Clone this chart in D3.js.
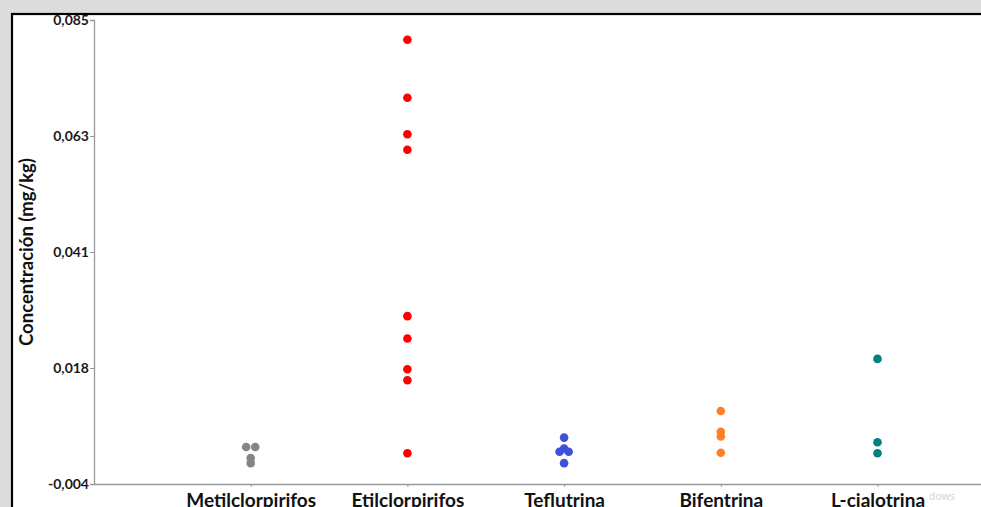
<!DOCTYPE html>
<html>
<head>
<meta charset="utf-8">
<script src="https://cdn.jsdelivr.net/npm/d3@7/dist/d3.min.js"></script>
<style>
html,body{margin:0;padding:0;background:#dcdcdc;overflow:hidden;}
svg{display:block;}
</style>
</head>
<body>
<svg id="chart" width="981" height="507"></svg>
<script>
const categories = ["Metilclorpirifos","Etilclorpirifos","Teflutrina","Bifentrina","L-cialotrina"];
const colors = ["#858585","#ff0000","#3e4fd8","#ff7f27","#008080"];
const metil = [0.0031,0.0031,0.0010,0.0000];
const etil = [0.0812,0.0701,0.0631,0.0601,0.0282,0.0239,0.0180,0.0159,0.0019];
const teflu = [0.0049,0.0028,0.0022,0.0022,0.0000];
const bifen = [0.0100,0.0060,0.0051,0.0020];
const lcial = [0.0200,0.0040,0.0019];
const seriesValues = [metil, etil, teflu, bifen, lcial];
const tickValues = [-0.004, 0.01825, 0.0405, 0.06275, 0.085];
const tickLabels = ["-0,004","0,018","0,041","0,063","0,085"];
const yTitle = "Concentración (mg/kg)";

const svg = d3.select("#chart");
const font = "Lato, 'Open Sans', sans-serif";

// panel
svg.append("rect").attr("x",12).attr("y",14).attr("width",1000).attr("height",600)
  .attr("fill","#fff").attr("stroke","#000").attr("stroke-width",2.2);

const x0 = 94, yTop = 20, yBot = 484;
const y = d3.scaleLinear().domain([-0.004, 0.085]).range([yBot, yTop]);
const x = d3.scalePoint().domain(categories).range([x0, x0 + 6*156.7]).padding(1);

// y axis
const yAxis = d3.axisLeft(y).tickValues(tickValues)
  .tickFormat((d,i)=>tickLabels[i]).tickSize(4).tickPadding(1);
const gy = svg.append("g").attr("transform",`translate(${x0},0)`).call(yAxis);
gy.select(".domain").attr("stroke","#9a9a9a").attr("stroke-width",1.3);
gy.selectAll(".tick line").attr("stroke","#9a9a9a");
gy.selectAll(".tick text").attr("font-family",font).attr("font-weight","bold")
  .attr("font-size",14).attr("fill","#1a1a1a");

// watermark remnant
svg.append("text").attr("x",929).attr("y",500).attr("font-family","'Segoe UI', 'Open Sans', sans-serif")
  .attr("font-size",10.5).attr("fill","#d0d0d0").text("dows");

// x axis
const xAxis = d3.axisBottom(x).tickSize(3).tickPadding(3).tickSizeOuter(0);
const gx = svg.append("g").attr("transform",`translate(0,${yBot})`).call(xAxis);
gx.select(".domain").attr("stroke","#9a9a9a").attr("stroke-width",1.3);
gx.selectAll(".tick line").attr("stroke","#9a9a9a");
gx.selectAll(".tick text").attr("font-family",font).attr("font-weight","bold")
  .attr("font-size",19).attr("fill","#111").attr("dy","0.9em");

// y title
svg.append("text").attr("transform",`translate(33,${(yTop+yBot)/2}) rotate(-90)`)
  .attr("text-anchor","middle").attr("font-family",font).attr("font-weight","bold")
  .attr("font-size",18.5).attr("fill","#111").text(yTitle);

// points: identical values spread symmetrically
const r = 4.3;
categories.forEach((c,ci)=>{
  const vals = seriesValues[ci];
  const counts = d3.rollup(vals, v=>v.length, d=>d);
  const seen = new Map();
  const pts = vals.map(v=>{
    const n = counts.get(v);
    const k = seen.get(v) || 0; seen.set(v,k+1);
    const off = (k - (n-1)/2) * (2*r+0.5);
    return {v, off};
  });
  svg.append("g").selectAll("circle").data(pts).join("circle")
    .attr("cx", d=>x(c)+d.off).attr("cy", d=>y(d.v)).attr("r", r)
    .attr("fill", colors[ci]);
});
</script>
</body>
</html>
